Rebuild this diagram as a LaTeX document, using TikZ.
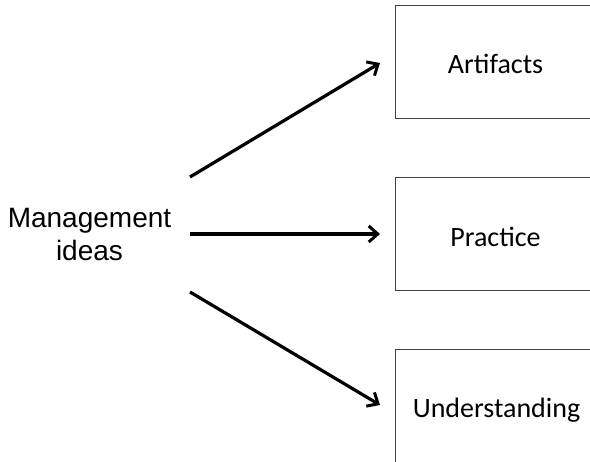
\documentclass[tikz,border=0pt]{standalone}
\usepackage{fontspec}
\setmainfont{Liberation Sans}
\newfontfamily\boxfont{Carlito}
\usetikzlibrary{arrows.meta}
\begin{document}
\begin{tikzpicture}[x=1pt,y=-1pt,
  itembox/.style={draw=black!75, line width=1.2pt, rectangle, minimum width=205pt,
    minimum height=113pt, inner sep=0pt, anchor=north west},
  itemtext/.style={font=\boxfont\fontsize{28}{32}\selectfont, anchor=base, inner sep=0pt},
  flow/.style={line width=3.2pt, -{Straight Barb[length=9pt,width=16pt,line width=3pt]}}]
  \useasboundingbox (0,0) rectangle (590,462);
  \clip (0,0) rectangle (590,462);
  % target boxes, running past the right edge
  \node[itembox] (artbox) at (395,5) {};
  \node[itembox] (prabox) at (395,177) {};
  \node[itembox] (undbox) at (395,349) {};
  \node[itemtext] (art) at (495.5,73.3) {Artifacts};
  \node[itemtext] (pra) at (495.5,246.7) {Practice};
  \node[itemtext] (und) at (496.5,417.7) {Understanding};
  % source label
  \node[font=\fontsize{28}{33}\selectfont, align=center, inner sep=0pt] (mgmt) at (89.5,235)
    {Management\\ideas};
  \coordinate (s1) at (190,177);
  \coordinate (s2) at (190,234);
  \coordinate (s3) at (190,292);
  \coordinate (e1) at (380,63);
  \coordinate (e2) at (380,234);
  \coordinate (e3) at (380,405);
  \draw[flow] (s1) -- (e1);
  \draw[flow] (s2) -- (e2);
  \draw[flow] (s3) -- (e3);
\end{tikzpicture}
\end{document}
